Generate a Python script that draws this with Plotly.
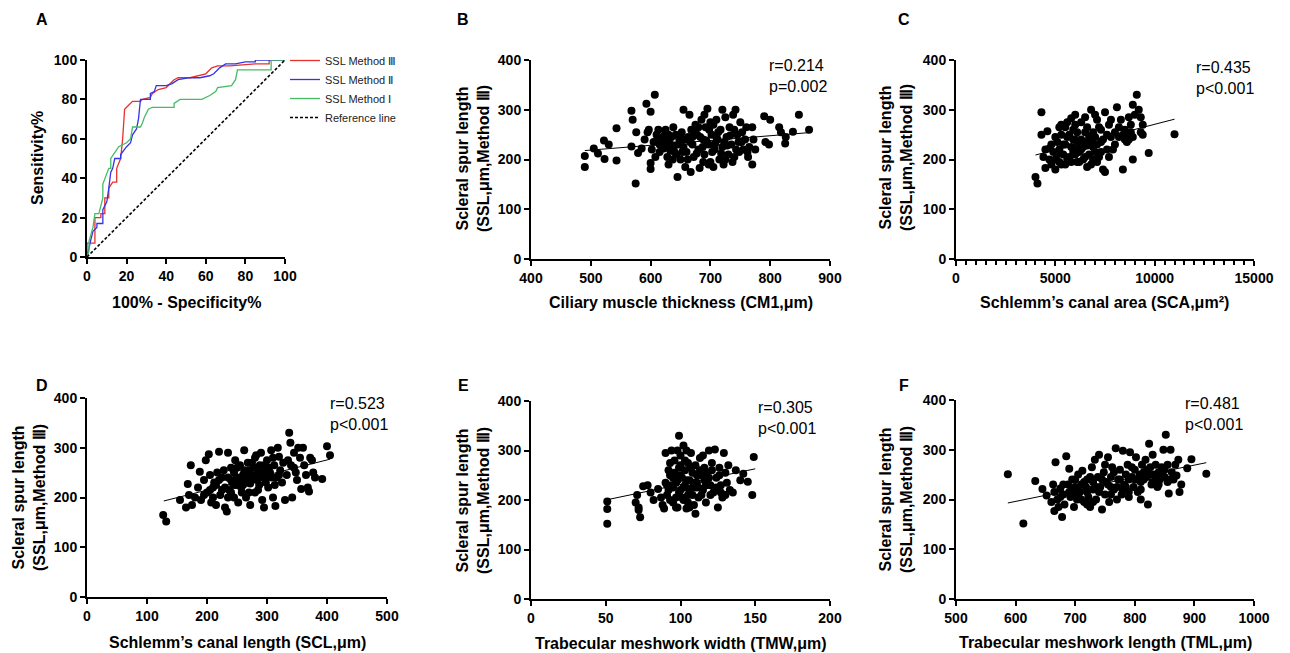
import plotly.graph_objects as go

W, H = 1290, 653
OFF = 8  # page body margin of the html page
FONT = "Liberation Sans, Arial, sans-serif"

# ---------------- Panel A: ROC curves ----------------
roc3_x = [0, 0, 4, 4, 7, 7, 9, 9, 11, 11, 13, 15, 15, 17, 18, 19, 21, 23, 27, 28, 32, 33, 36, 40, 44, 46, 52, 56, 60, 63, 66, 72, 85, 92, 92, 100]
roc3_y = [0, 7, 7, 20, 20, 22, 22, 30, 30, 35, 38, 38, 45, 50, 60, 75, 77, 79, 79, 80, 81, 83, 85, 86, 90, 91, 91, 92, 93, 96, 97, 97, 98, 98, 100, 100]
roc2_x = [0, 1, 2, 3, 5, 5, 8, 8, 10, 11, 12, 13, 14, 17, 17, 20, 22, 23, 25, 26, 27, 27, 32, 32, 34, 35, 40, 43, 46, 52, 57, 62, 64, 67, 70, 75, 80, 85, 85, 100]
roc2_y = [0, 5, 9, 13, 15, 17, 17, 24, 28, 35, 43, 45, 50, 50, 52, 56, 58, 62, 65, 70, 78, 80, 80, 83, 84, 87, 87, 88, 90, 91, 91, 92, 93, 96, 98, 98, 99, 99, 100, 100]
roc1_x = [0, 1, 1, 2, 3, 4, 6, 7, 8, 8, 9, 10, 11, 12, 12, 14, 16, 20, 22, 23, 27, 28, 29, 31, 33, 44, 44, 47, 58, 62, 65, 66, 73, 75, 76, 93, 93, 100]
roc1_y = [0, 3, 8, 12, 15, 22, 22, 26, 30, 37, 40, 42, 45, 45, 50, 53, 56, 58, 60, 66, 66, 68, 71, 75, 76, 76, 78, 80, 80, 82, 84, 86, 87, 90, 95, 95, 100, 100]
ref_x = [0, 100]
ref_y = [0, 100]
roc_names = ["SSL Method Ⅲ", "SSL Method Ⅱ", "SSL Method Ⅰ", "Reference line"]

# ---------------- Panel B: CM1 vs SSL ----------------
b_x = [490, 490, 505, 512, 522, 523, 530, 543, 543, 568, 568, 570, 575, 576, 579, 585, 593, 597, 600, 600, 600, 607, 610, 612, 615, 620, 622, 625, 628, 630, 632, 635, 638, 640, 643, 645, 648, 650, 652, 655, 655, 658, 660, 663, 665, 667, 668, 670, 672, 675, 678, 680, 682, 685, 688, 690, 692, 695, 697, 700, 700, 702, 705, 707, 710, 712, 715, 717, 720, 720, 722, 725, 727, 730, 732, 735, 738, 740, 742, 745, 748, 750, 752, 755, 760, 762, 765, 770, 770, 772, 775, 790, 792, 798, 800, 815, 818, 825, 826, 838, 848, 865,
       590, 595, 602, 605, 608, 613, 618, 623, 627, 633, 637, 642, 647, 653, 657, 662, 666, 673, 677, 683, 687, 693, 698, 703, 708, 713, 718, 723, 728, 733, 737, 743, 747, 753, 758, 763, 740, 697, 688, 705, 710, 725, 680, 690, 670, 650, 640, 625, 615, 630]
b_y = [207, 185, 222, 212, 238, 201, 230, 263, 198, 298, 226, 280, 152, 255, 213, 222, 312, 260, 296, 181, 193, 330, 250, 245, 215, 238, 222, 260, 205, 190, 232, 245, 265, 228, 210, 165, 240, 200, 255, 300, 225, 185, 215, 245, 290, 175, 260, 230, 205, 270, 250, 220, 183, 280, 240, 210, 265, 302, 230, 195, 275, 250, 185, 220, 280, 240, 200, 260, 300, 225, 190, 285, 245, 210, 265, 230, 290, 205, 300, 250, 215, 275, 235, 220, 265, 215, 225, 190, 265, 240, 220, 287, 235, 230, 280, 265, 255, 232, 245, 256, 290, 260,
       240, 255, 220, 235, 205, 260, 228, 248, 240, 218, 200, 250, 230, 215, 240, 200, 235, 255, 212, 245, 225, 238, 260, 215, 232, 255, 212, 235, 228, 248, 195, 220, 235, 255, 240, 205, 260, 190, 195, 270, 245, 200, 265, 290, 245, 245, 215, 225, 230, 250]
b_fit_x = [490, 865]
b_fit_y = [218, 254]

# ---------------- Panel C: SCA vs SSL ----------------
c_x = [4000, 4100, 4300, 4300, 4400, 4500, 4600, 4700, 4800, 5000, 5000, 5100, 5200, 5300, 5400, 5500, 5600, 5700, 5800, 5900, 6000, 6000, 6100, 6200, 6300, 6400, 6500, 6600, 6700, 6800, 6900, 7000, 7100, 7200, 7300, 7400, 7500, 7500, 7600, 7700, 7800, 7900, 8000, 8100, 8200, 8300, 8400, 8500, 8600, 8700, 8800, 8900, 8900, 9000, 9100, 9200, 9300, 9300, 9400, 9400, 9700, 11000,
       4500, 4700, 4900, 5100, 5200, 5300, 5400, 5500, 5600, 5700, 5800, 5900, 6000, 6100, 6100, 6200, 6300, 6400, 6500, 6500, 6600, 6700, 6800, 6900, 7000, 7000, 7100, 7200, 7300, 7400, 7600, 7800, 8000, 8200, 8400, 8600, 8800, 5500, 6200, 6800, 5800, 6000, 7100, 6500, 5000, 4800, 5300, 5600, 6900, 7700, 8500, 8900, 8700, 5200, 6300, 6600, 7300, 5900, 6100]
c_y = [165, 152, 250, 295, 205, 183, 257, 222, 190, 180, 245, 210, 265, 190, 230, 265, 200, 250, 283, 215, 290, 240, 195, 230, 275, 200, 255, 185, 245, 300, 225, 290, 195, 265, 235, 180, 295, 175, 250, 205, 280, 220, 255, 305, 245, 280, 180, 260, 250, 240, 270, 200, 310, 290, 330, 300, 285, 255, 270, 250, 213, 251,
       220, 200, 215, 235, 195, 250, 210, 230, 245, 205, 225, 260, 210, 235, 255, 215, 240, 225, 205, 235, 265, 210, 235, 255, 215, 245, 230, 205, 260, 240, 220, 245, 230, 265, 250, 235, 255, 190, 195, 190, 195, 270, 280, 285, 200, 230, 270, 275, 200, 270, 240, 245, 285, 220, 220, 228, 215, 240, 220]
c_fit_x = [4000, 11000]
c_fit_y = [209, 281]

# ---------------- Panel D: SCL vs SSL ----------------
d_x = [127, 132, 155, 165, 168, 170, 173, 175, 180, 185, 188, 190, 195, 198, 200, 203, 205, 207, 210, 212, 215, 217, 220, 222, 225, 228, 230, 233, 235, 237, 240, 242, 245, 247, 250, 252, 255, 257, 260, 262, 265, 267, 270, 272, 275, 277, 280, 282, 285, 287, 290, 292, 295, 295, 297, 300, 302, 305, 307, 310, 312, 314, 316, 318, 320, 322, 325, 327, 330, 333, 337, 339, 340, 342, 345, 348, 350, 352, 355, 357, 360, 362, 365, 368, 370, 372, 375, 377, 380, 392, 400, 405,
       230, 235, 240, 245, 250, 255, 258, 262, 265, 268, 272, 278, 283, 288, 293, 298, 303, 308, 313, 225, 215, 205, 260, 250, 245, 275, 285, 235, 220, 210, 195, 290, 320, 335, 345, 270, 280, 300, 310, 240]
d_y = [165, 152, 195, 180, 227, 205, 265, 185, 200, 220, 252, 195, 235, 275, 210, 287, 245, 190, 220, 230, 185, 250, 292, 205, 240, 255, 180, 172, 290, 215, 260, 230, 200, 275, 240, 190, 265, 220, 245, 295, 200, 230, 255, 185, 270, 240, 210, 285, 250, 225, 290, 195, 265, 180, 240, 275, 220, 250, 295, 200, 265, 183, 240, 300, 282, 255, 230, 270, 195, 245, 330, 310, 265, 200, 290, 250, 235, 300, 280, 217, 300, 265, 245, 220, 212, 280, 275, 250, 240, 237, 303, 285,
       220, 240, 210, 250, 225, 235, 210, 255, 240, 270, 228, 260, 235, 265, 250, 230, 260, 240, 225, 215, 225, 215, 225, 260, 225, 245, 215, 200, 235, 200, 205, 240, 245, 275, 260, 210, 280, 255, 280, 235]
d_fit_x = [128, 405]
d_fit_y = [193, 277]

# ---------------- Panel E: TMW vs SSL ----------------
e_x = [51, 51, 51, 70, 71, 72, 72, 73, 75, 78, 80, 82, 85, 87, 88, 89, 90, 90, 91, 92, 93, 94, 95, 95, 96, 97, 98, 98, 99, 99, 100, 100, 101, 102, 102, 103, 103, 104, 105, 105, 106, 107, 108, 108, 109, 110, 110, 111, 112, 113, 114, 115, 116, 117, 118, 119, 120, 121, 122, 123, 124, 125, 126, 127, 128, 129, 130, 131, 132, 133, 135, 137, 140, 142, 145, 148, 149,
       92, 93, 94, 96, 97, 99, 100, 101, 104, 106, 107, 109, 111, 112, 114, 116, 118, 120, 121, 124, 126, 97, 103, 105, 100, 98, 95, 102, 110, 113, 117, 119, 93, 91, 115, 108, 106, 104, 127, 130]
e_y = [197, 182, 152, 195, 210, 185, 180, 165, 228, 230, 215, 200, 222, 205, 190, 183, 235, 295, 210, 260, 250, 300, 225, 195, 280, 205, 240, 185, 330, 265, 220, 290, 245, 200, 310, 260, 230, 183, 275, 210, 240, 295, 225, 255, 190, 270, 172, 235, 205, 285, 250, 220, 265, 195, 240, 300, 230, 260, 215, 302, 245, 185, 265, 230, 205, 295, 255, 235, 270, 220, 215, 260, 240, 253, 237, 210, 287,
       220, 200, 230, 255, 235, 215, 250, 205, 240, 220, 265, 235, 250, 225, 210, 240, 255, 210, 275, 225, 250, 185, 280, 195, 270, 300, 245, 225, 225, 260, 230, 245, 275, 230, 290, 210, 185, 300, 215, 210]
e_fit_x = [50, 150]
e_fit_y = [200, 263]

# ---------------- Panel F: TML vs SSL ----------------
f_x = [587, 613, 633, 645, 652, 660, 663, 665, 667, 670, 672, 675, 678, 680, 682, 685, 688, 690, 692, 695, 698, 700, 703, 705, 708, 710, 712, 715, 718, 720, 722, 725, 728, 730, 733, 735, 738, 740, 742, 745, 748, 750, 752, 755, 757, 760, 762, 765, 768, 770, 772, 775, 778, 780, 782, 785, 788, 790, 792, 795, 798, 800, 802, 805, 808, 810, 812, 815, 818, 820, 822, 824, 826, 828, 830, 832, 835, 838, 840, 842, 845, 848, 850, 852, 855, 857, 860, 862, 865, 868, 870, 873, 875, 878, 888, 895, 920,
       680, 690, 700, 705, 715, 720, 725, 730, 735, 740, 745, 750, 755, 760, 765, 770, 775, 780, 785, 790, 795, 800, 805, 810, 815, 820, 825, 830, 835, 840, 845, 850, 855, 860, 710, 720, 730, 695, 675, 665, 700, 760, 790, 810]
f_y = [251, 152, 237, 221, 208, 195, 230, 177, 275, 200, 185, 222, 165, 210, 190, 287, 230, 262, 205, 240, 185, 225, 200, 250, 215, 230, 258, 195, 225, 240, 205, 185, 265, 220, 280, 200, 245, 290, 225, 180, 255, 210, 235, 285, 195, 245, 265, 220, 303, 200, 240, 260, 210, 298, 230, 250, 270, 205, 295, 245, 225, 260, 285, 215, 250, 235, 270, 255, 280, 245, 190, 312, 265, 230, 290, 250, 270, 225, 255, 240, 265, 300, 245, 330, 235, 212, 300, 255, 240, 270, 248, 280, 215, 230, 263, 281, 252,
       230, 215, 240, 210, 235, 215, 245, 235, 225, 215, 240, 270, 230, 225, 255, 225, 240, 220, 225, 240, 265, 240, 240, 220, 240, 260, 250, 235, 245, 230, 250, 260, 270, 240, 200, 190, 195, 220, 205, 215, 210, 210, 215, 200]
f_fit_x = [587, 920]
f_fit_y = [193, 274]

# ---------------- layout helpers ----------------
def px_x(v):
    return (v - OFF) / W

def px_y(v):
    return 1 - (v - OFF) / H

fig = go.Figure()

# Panel A traces
roc_colors = ["#e8302c", "#3434e8", "#45bb64"]
for xs, ys, nm, col in zip([roc3_x, roc2_x, roc1_x], [roc3_y, roc2_y, roc1_y], roc_names[:3], roc_colors):
    fig.add_trace(go.Scatter(x=xs, y=ys, mode="lines", name=nm,
                             line=dict(color=col, width=1.3), xaxis="x", yaxis="y"))
fig.add_trace(go.Scatter(x=ref_x, y=ref_y, mode="lines", name=roc_names[3],
                         line=dict(color="black", width=1.6, dash="3px,2px"), xaxis="x", yaxis="y"))

panels = [
    ("x2", "y2", b_x, b_y, b_fit_x, b_fit_y),
    ("x3", "y3", c_x, c_y, c_fit_x, c_fit_y),
    ("x4", "y4", d_x, d_y, d_fit_x, d_fit_y),
    ("x5", "y5", e_x, e_y, e_fit_x, e_fit_y),
    ("x6", "y6", f_x, f_y, f_fit_x, f_fit_y),
]
for xa, ya, xs, ys, fx, fy in panels:
    fig.add_trace(go.Scatter(x=xs, y=ys, mode="markers", showlegend=False,
                             marker=dict(color="black", size=8), xaxis=xa, yaxis=ya))
    fig.add_trace(go.Scatter(x=fx, y=fy, mode="lines", showlegend=False,
                             line=dict(color="black", width=1), xaxis=xa, yaxis=ya))

tickfont = dict(family=FONT, size=14, color="black", weight="bold")

def axis_common():
    return dict(showline=True, linecolor="black", linewidth=2, ticks="outside",
                ticklen=5, tickwidth=2, tickcolor="black", showgrid=False,
                zeroline=False, tickfont=tickfont, fixedrange=True,
                automargin=False, exponentformat="none", tickformat="d")

# (domain px left, right), (domain px top, bottom), x range, x dtick, y range, y dtick
axes_spec = {
    1: ((87, 285), (60, 257), [0, 100], 20, [0, 100], 20),
    2: ((531, 830), (60, 259), [400, 900], 100, [0, 400], 100),
    3: ((956, 1254), (60, 259), [0, 15000], 5000, [0, 400], 100),
    4: ((87, 387), (398, 597), [0, 500], 100, [0, 400], 100),
    5: ((531, 830), (401, 599), [0, 200], 50, [0, 400], 100),
    6: ((956, 1254), (400, 599), [500, 1000], 100, [0, 400], 100),
}
layout_axes = {}
for i, (dx, dy, xr, xd, yr, yd) in axes_spec.items():
    sfx = "" if i == 1 else str(i)
    xa = axis_common()
    xa.update(domain=[px_x(dx[0]), px_x(dx[1])], range=xr, dtick=xd,
              tick0=xr[0], anchor="y" + sfx)
    if i == 3:
        xa.update(minor=dict(dtick=500, ticks="outside", ticklen=4, tickwidth=1.5,
                             tickcolor="black", showgrid=False))
    ya = axis_common()
    ya.update(domain=[px_y(dy[1]), px_y(dy[0])], range=yr, dtick=yd,
              tick0=0, anchor="x" + sfx)
    layout_axes["xaxis" + sfx] = xa
    layout_axes["yaxis" + sfx] = ya

annotations = []
def ann(text, x, y, size=16, bold=True, angle=0, xanchor="center", align="center"):
    annotations.append(dict(text=text, x=px_x(x), y=px_y(y), xref="paper", yref="paper",
                            showarrow=False, textangle=angle, xanchor=xanchor,
                            yanchor="middle", align=align,
                            font=dict(family=FONT, size=size, color="black",
                                      weight="bold" if bold else "normal")))

# panel letters
for letter, x, y in [("A", 42, 20), ("B", 463, 20), ("C", 904, 20),
                     ("D", 42, 385), ("E", 463, 385), ("F", 904, 385)]:
    ann(letter, x, y, size=16)

# axis titles
ann("100% - Specificity%", 186, 302)
ann("Sensitivity%", 37, 158, angle=-90)
ytitle = "Scleral spur length<br>(SSL,μm,Method Ⅲ)"
ann("Ciliary muscle thickness (CM1,μm)", 681, 303)
ann(ytitle, 473, 158, angle=-90)
ann("Schlemm’s canal area (SCA,μm²)", 1104, 303)
ann(ytitle, 896, 158, angle=-90)
ann("Schlemm’s canal length (SCL,μm)", 237, 642)
ann(ytitle, 29, 498, angle=-90)
ann("Trabecular meshwork width (TMW,μm)", 681, 643)
ann(ytitle, 473, 500, angle=-90)
ann("Trabecular meshwork length (TML,μm)", 1105, 642)
ann(ytitle, 896, 500, angle=-90)

# statistics
ann("r=0.214<br>p=0.002", 767, 76, bold=False, xanchor="left", align="left")
ann("r=0.435<br>p<0.001", 1194, 78, bold=False, xanchor="left", align="left")
ann("r=0.523<br>p<0.001", 328, 414, bold=False, xanchor="left", align="left")
ann("r=0.305<br>p<0.001", 756, 418, bold=False, xanchor="left", align="left")
ann("r=0.481<br>p<0.001", 1183, 414, bold=False, xanchor="left", align="left")

fig.update_layout(
    template="none",
    width=W, height=H,
    autosize=False,
    margin=dict(l=0, r=0, t=0, b=0, pad=0),
    paper_bgcolor="white", plot_bgcolor="white",
    showlegend=True,
    legend=dict(x=px_x(285), y=px_y(46), xanchor="left", yanchor="top",
                font=dict(family=FONT, size=11, color="#222"),
                bgcolor="rgba(0,0,0,0)", itemwidth=30, tracegroupgap=0),
    annotations=annotations,
    **layout_axes,
)

fig.write_html("out.html")
